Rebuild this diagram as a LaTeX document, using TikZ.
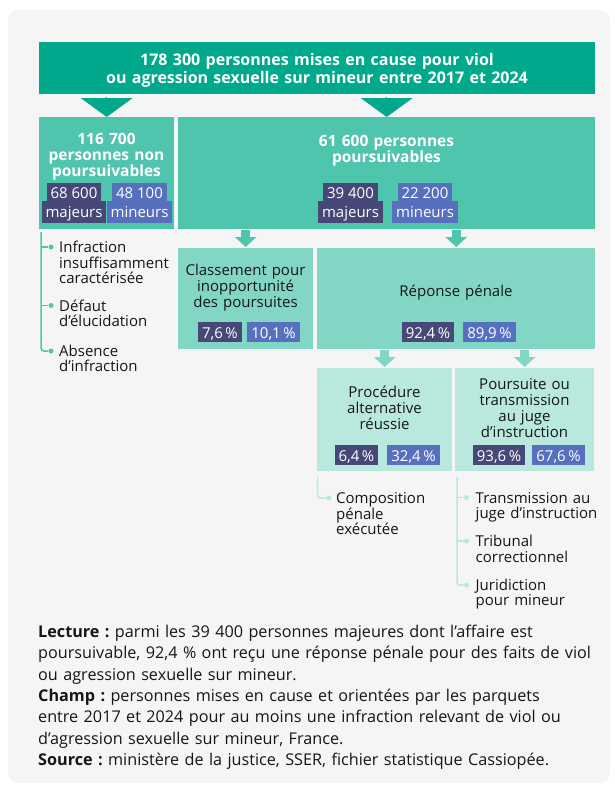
\documentclass[tikz,border=0pt]{standalone}
\usepackage{fontspec}
\setmainfont{Open Sans}
\usetikzlibrary{positioning,arrows.meta}
\frenchspacing

\definecolor{bggrey}{HTML}{F5F5F5}
\definecolor{hdrgreen}{HTML}{00A98C}
\definecolor{midteal}{HTML}{50C5AE}
\definecolor{paleteal}{HTML}{82D6C6}
\definecolor{lightteal}{HTML}{B9E8DF}
\definecolor{navy}{HTML}{464878}
\definecolor{kidblue}{HTML}{5770BE}
\definecolor{ink}{HTML}{161616}

\begin{document}
\begin{tikzpicture}[x=1pt, y=-1pt, >={Triangle[width=21pt,length=10pt]},
  box/.style={anchor=north west, inner sep=0pt},
  txt/.style={anchor=base, align=center, inner sep=0pt, text=ink, font=\fontsize{15}{16}\selectfont},
  bold/.style={txt, text=white, font=\fontsize{15.5}{16}\selectfont\bfseries},
  tag/.style={text=white, inner xsep=4pt, inner ysep=2pt, text height=14pt, text depth=2pt, font=\fontsize{15}{16}\selectfont},
  top/.style={text depth=0pt},
  low/.style={text depth=4pt},
  adult/.style={tag, fill=navy},
  minor/.style={tag, fill=kidblue},
  flow/.style={->, line width=9pt, shorten <=1pt, shorten >=1pt},
  leader/.style={line width=1.5pt, rounded corners=3pt},
  dot/.style={circle, fill=#1, inner sep=0pt, minimum size=5pt},
  item/.style={anchor=base west, inner sep=0pt, align=left, text=ink, font=\fontsize{15}{15.5}\selectfont}]
\useasboundingbox (0,0) rectangle (614,787);
\fill[bggrey, rounded corners=10pt] (8,10) rectangle (610,783);

% header
\node[box, fill=hdrgreen, minimum width=556, minimum height=52] (hdr) at (39,42) {};
\node[bold, text width=540, font=\fontsize{16}{18}\selectfont\bfseries] (hdrtxt) at (317,65)
  {178 300 personnes mises en cause pour viol\\ou agression sexuelle sur mineur entre 2017 et 2024};

% first split
\node[box, fill=midteal, minimum width=135, minimum height=112] (np) at (39,117) {};
\node[box, fill=midteal, minimum width=417, minimum height=112] (pp) at (178,117) {};
\draw[hdrgreen, -{Triangle[width=52pt,length=19pt]}, line width=0pt, shorten <=3pt] (hdr.south -| np.north) -- (np.north);
\draw[hdrgreen, -{Triangle[width=52pt,length=19pt]}, line width=0pt, shorten <=3pt] (hdr.south -| pp.north) -- (pp.north);

\node[bold, text width=130] (nptxt) at (106.5,144) {116 700\\personnes non\\poursuivables};
\node[adult, top, anchor=south] (npa) at (74,201) {68 600};
\node[adult, low, below=0pt of npa] (npal) {majeurs};
\node[minor, top, anchor=south] (npm) at (139.5,201) {48 100};
\node[minor, low, below=0pt of npm] (npml) {mineurs};

\node[bold, text width=300] (pptxt) at (386.5,146) {61 600 personnes\\poursuivables};
\node[adult, top, anchor=south] (ppa) at (350.5,201) {39 400};
\node[adult, low, below=0pt of ppa] (ppal) {majeurs};
\node[minor, top, anchor=south] (ppm) at (425,201) {22 200};
\node[minor, low, below=0pt of ppm] (ppml) {mineurs};

% not prosecutable: reasons
\coordinate (lt) at (41,232);
\node[dot=midteal] (d1) at (51,247) {};
\node[dot=midteal] (d2) at (51,305.5) {};
\node[dot=midteal] (d3) at (51,351) {};
\draw[leader, midteal] (lt) |- (d3);
\draw[leader, midteal] (lt |- d1) -- (d1);
\draw[leader, midteal] (lt |- d2) -- (d2);
\node[item, text width=125] (i1) at (59,252.5) {Infraction\\insuffisamment\\caractérisée};
\node[item, text width=125] (i2) at (59,311) {Défaut\\d’élucidation};
\node[item, text width=125] (i3) at (59,356) {Absence\\d’infraction};

% second split
\node[box, fill=paleteal, minimum width=135, minimum height=101] (cls) at (178,248) {};
\node[box, fill=paleteal, minimum width=278, minimum height=101] (rep) at (317,248) {};
\draw[flow, midteal] (pp.south -| cls.north) -- (cls.north);
\draw[flow, midteal] (pp.south -| rep.north) -- (rep.north);

\node[txt, text width=130] (clstxt) at (245.5,275) {Classement pour\\inopportunité\\des poursuites};
\node[adult, anchor=north] (clsa) at (220,322) {7,6\,\%};
\node[minor, anchor=north] (clsm) at (273.5,322) {10,1\,\%};

\node[txt, text width=260] (reptxt) at (456,296) {Réponse pénale};
\node[adult, anchor=north] (repa) at (428,322) {92,4\,\%};
\node[minor, anchor=north] (repm) at (489.5,322) {89,9\,\%};

% third split
\node[box, fill=lightteal, minimum width=135, minimum height=103] (alt) at (317,368) {};
\node[box, fill=lightteal, minimum width=139, minimum height=103] (pj) at (455,368) {};
\draw[flow, paleteal] (rep.south -| alt.north) -- (alt.north);
\draw[flow, paleteal] (rep.south -| pj.north) -- (pj.north);

\node[txt, text width=130] (alttxt) at (384.5,397) {Procédure\\alternative\\réussie};
\node[adult, anchor=north] (alta) at (356.5,445) {6,4\,\%};
\node[minor, anchor=north] (altm) at (413.5,445) {32,4\,\%};

\node[txt, text width=134] (pjtxt) at (524.5,389) {Poursuite ou\\transmission\\au juge\\d’instruction};
\node[adult, anchor=north] (pja) at (499,445) {93,6\,\%};
\node[minor, anchor=north] (pjm) at (558.5,445) {67,6\,\%};

% lower reasons
\coordinate (at) at (317.5,477);
\node[dot=lightteal] (d4) at (329,498) {};
\draw[leader, lightteal] (at) |- (d4);
\node[item, text width=120] (i4) at (336,503.5) {Composition\\pénale\\exécutée};

\coordinate (pt) at (457,477);
\node[dot=lightteal] (d5) at (466.5,497.5) {};
\node[dot=lightteal] (d6) at (466.5,541) {};
\node[dot=lightteal] (d7) at (466.5,585) {};
\draw[leader, lightteal] (pt) |- (d7);
\draw[leader, lightteal] (pt |- d5) -- (d5);
\draw[leader, lightteal] (pt |- d6) -- (d6);
\node[item, text width=135] (i5) at (475.5,503) {Transmission au\\juge d’instruction};
\node[item, text width=135] (i6) at (475.5,546.5) {Tribunal\\correctionnel};
\node[item, text width=135] (i7) at (475.5,590) {Juridiction\\pour mineur};

% notes
\node[anchor=base west, inner sep=0pt, text width=570, align=left, text=ink,
  font=\fontsize{16.2}{21.3}\selectfont] (note) at (38,637.5)
  {\textbf{Lecture~:} parmi les 39 400 personnes majeures dont l’affaire est\\
   poursuivable, 92,4~\% ont reçu une réponse pénale pour des faits de viol\\
   ou agression sexuelle sur mineur.\\
   \textbf{Champ~:} personnes mises en cause et orientées par les parquets\\
   entre 2017 et 2024 pour au moins une infraction relevant de viol ou\\
   d’agression sexuelle sur mineur, France.\\
   \textbf{Source~:} ministère de la justice, SSER, fichier statistique Cassiopée.};
\end{tikzpicture}
\end{document}
